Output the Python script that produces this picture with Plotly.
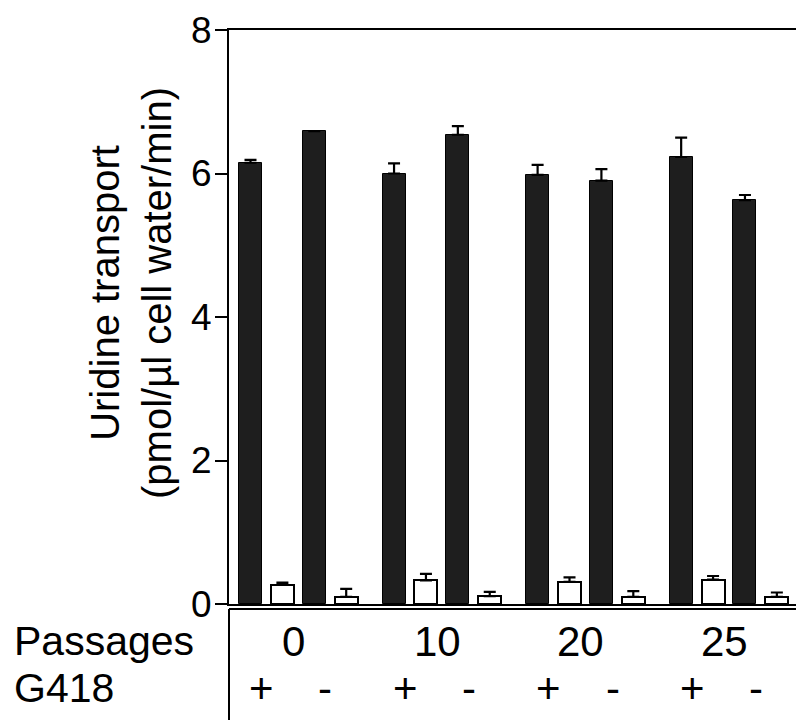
import plotly.graph_objects as go

# Uridine transport over successive passages, with (+) or without (-) G418
passages = ["0", "10", "20", "25"]
g418 = ["+", "-"]

# one value per (passage, G418) condition, in order 0+, 0-, 10+, 10-, ...
filled_vals = [6.15, 6.59, 6.00, 6.54, 5.98, 5.90, 6.23, 5.63]
filled_err = [0.04, 0.00, 0.14, 0.12, 0.14, 0.16, 0.27, 0.07]
open_vals = [0.27, 0.10, 0.33, 0.11, 0.31, 0.10, 0.34, 0.10]
open_err = [0.03, 0.11, 0.09, 0.06, 0.06, 0.08, 0.05, 0.06]

y_ticks = [0, 2, 4, 6, 8]

FONT = "Liberation Sans, Arial, Helvetica, sans-serif"
GROUP_STEP = 4.5   # x-units between passage groups
COND_STEP = 2.0    # x-units between + and - within a group

cond_x = []
for gi in range(len(passages)):
    for si in range(len(g418)):
        cond_x.append(gi * GROUP_STEP + si * COND_STEP)
open_x = [x + 1 for x in cond_x]

fig = go.Figure()
fig.add_trace(go.Bar(
    x=cond_x, y=filled_vals, width=0.72,
    marker=dict(color="#1e1e1e", line=dict(color="#000", width=1)),
    error_y=dict(type="data", symmetric=False, array=filled_err,
                 arrayminus=[0] * len(filled_err),
                 color="#000", thickness=2.2, width=6),
    showlegend=False,
))
fig.add_trace(go.Bar(
    x=open_x, y=open_vals, width=0.72,
    marker=dict(color="#fff", line=dict(color="#000", width=2)),
    error_y=dict(type="data", symmetric=False, array=open_err,
                 arrayminus=[0] * len(open_err),
                 color="#000", thickness=2.2, width=6),
    showlegend=False,
))

W, H = 796, 720
M_L, M_R, M_T, M_B = 229, 0, 30, 116
plot_h = H - M_T - M_B

def py(px):
    """pixel row -> paper y"""
    return (H - M_B - px) / plot_h

annotations = []
# y-axis title (two lines)
annotations.append(dict(
    text="Uridine transport<br>(pmol/µl cell water/min)",
    x=(131 - M_L) / (W - M_L - M_R), xref="paper", xanchor="center",
    y=py(293), yref="paper", yanchor="middle",
    textangle=-90, showarrow=False,
    font=dict(family=FONT, size=40, color="#000"),
))
# row headers of the table under the axis
for label, row_px in (("Passages", 641), ("G418", 688)):
    annotations.append(dict(
        text=label, x=(12 - M_L) / (W - M_L - M_R), xref="paper",
        xanchor="left", y=py(row_px), yref="paper", yanchor="middle",
        showarrow=False, font=dict(family=FONT, size=41, color="#000"),
    ))
# passage numbers
for gi, p in enumerate(passages):
    annotations.append(dict(
        text=p, x=gi * GROUP_STEP + 1.35, xref="x", xanchor="center",
        y=py(641), yref="paper", yanchor="middle", showarrow=False,
        font=dict(family=FONT, size=42, color="#000"),
    ))
# G418 +/- marks
for ci, x in enumerate(cond_x):
    annotations.append(dict(
        text=g418[ci % 2], x=x + 0.35, xref="x", xanchor="center",
        y=py(688), yref="paper", yanchor="middle", showarrow=False,
        font=dict(family=FONT, size=42, color="#000"),
    ))

shapes = [
    # second rule under the x axis
    dict(type="line", xref="paper", yref="paper", x0=0, x1=1,
         y0=py(609), y1=py(609), line=dict(color="#000", width=2)),
    # vertical rule separating row headers from the table
    dict(type="line", xref="paper", yref="paper", x0=0, x1=0,
         y0=py(609), y1=py(H + 5), line=dict(color="#000", width=2)),
]

fig.update_layout(
    width=W, height=H,
    margin=dict(l=M_L, r=M_R, t=M_T, b=M_B, pad=0),
    paper_bgcolor="#fff", plot_bgcolor="#fff",
    bargap=0, barmode="overlay",
    font=dict(family=FONT, color="#000"),
    annotations=annotations, shapes=shapes,
    xaxis=dict(range=[-0.674, 17.1], showgrid=False, zeroline=False,
               showticklabels=False, ticks="", showline=True,
               linecolor="#000", linewidth=2, mirror=True),
    yaxis=dict(range=[0, 8], tickvals=y_ticks, showgrid=False,
               zeroline=False, showline=True, linecolor="#000",
               linewidth=2, ticks="outside", ticklen=12, tickwidth=2,
               tickcolor="#000", ticklabelstandoff=-4,
               tickfont=dict(family=FONT, size=37, color="#000")),
)

fig.write_html("out.html")
